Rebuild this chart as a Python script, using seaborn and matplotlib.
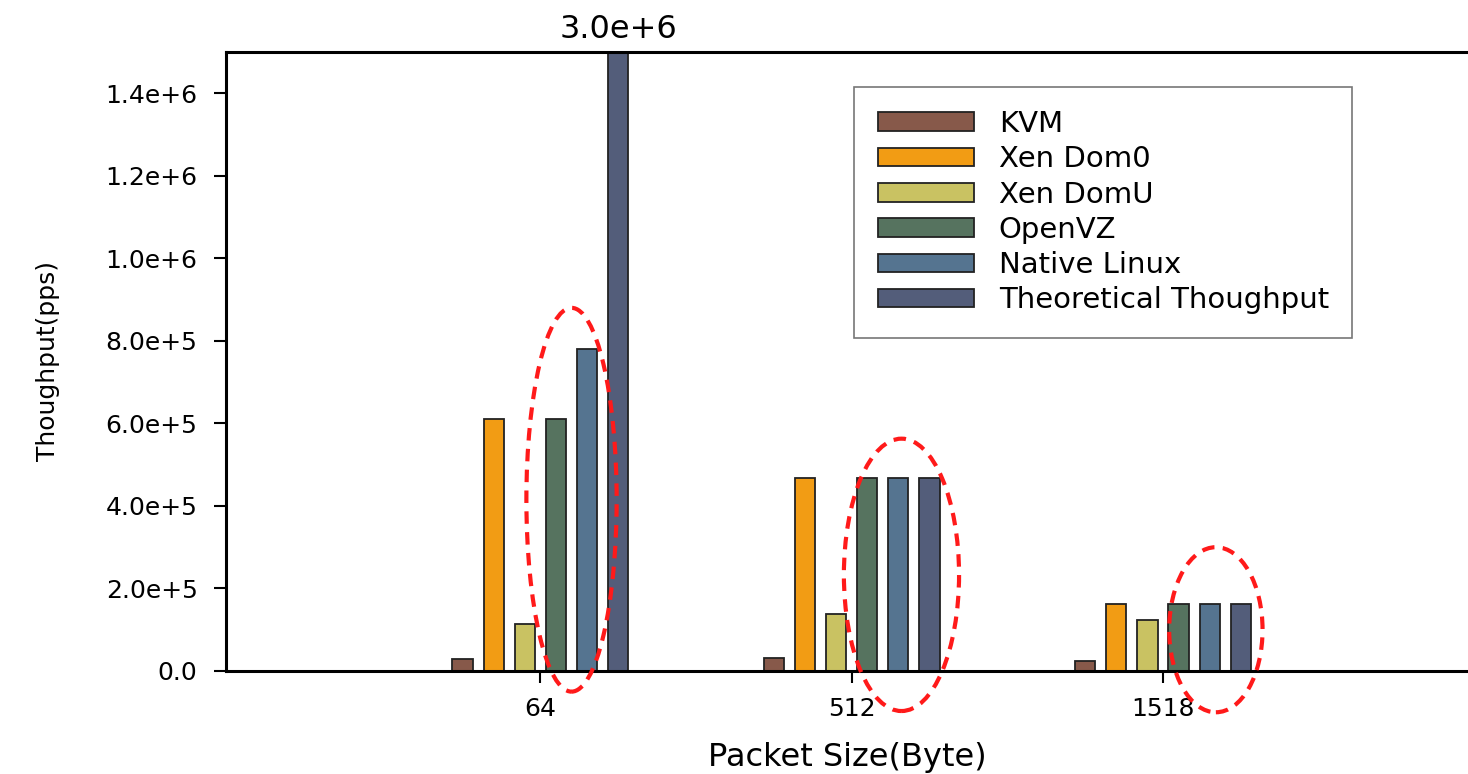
import pandas as pd
import matplotlib.pyplot as plt
import seaborn as sns
from matplotlib.patches import Ellipse
from matplotlib.ticker import FuncFormatter

packet_sizes = ['64', '512', '1518']
systems = ['KVM', 'Xen Dom0', 'Xen DomU', 'OpenVZ', 'Native Linux', 'Theoretical Thoughput']
kvm = [3.0e4, 3.2e4, 2.4e4]
xen_dom0 = [6.1e5, 4.68e5, 1.63e5]
xen_domu = [1.14e5, 1.38e5, 1.24e5]
openvz = [6.1e5, 4.68e5, 1.63e5]
native_linux = [7.8e5, 4.68e5, 1.63e5]
theoretical = [3.0e6, 4.68e5, 1.63e5]
colors = ['#87594a', '#f29c14', '#c9c262', '#56735f', '#557490', '#535d7a']

rows = []
for name, vals in zip(systems, [kvm, xen_dom0, xen_domu, openvz, native_linux, theoretical]):
    for size, v in zip(packet_sizes, vals):
        rows.append({'size': size, 'system': name, 'pps': v})
df = pd.DataFrame(rows)

sns.set_style('white')
plt.rcParams['font.family'] = ['DejaVu Sans']
plt.rcParams['text.color'] = 'black'
plt.rcParams['axes.labelcolor'] = 'black'

fig = plt.figure(figsize=(14.68, 7.74), dpi=100)
ax = fig.add_axes([226 / 1468, 1 - 671 / 774, 1 - 226 / 1468, (671 - 52) / 774])

sns.barplot(data=df, x='size', y='pps', hue='system', hue_order=systems,
            order=packet_sizes, palette=colors, width=0.6, gap=0.35,
            edgecolor='#222222', linewidth=1.3, saturation=1, ax=ax)

ax.set_ylim(0, 1.5e6)
ax.set_xlim(-1.01, 2.98)
ax.set_yticks([0, 2e5, 4e5, 6e5, 8e5, 1.0e6, 1.2e6, 1.4e6])


def sci(v, pos):
    if v == 0:
        return '0.0'
    m, e = f'{v:.1e}'.split('e')
    return f'{m}e{int(e):+d}'


ax.yaxis.set_major_formatter(FuncFormatter(sci))
ax.tick_params(axis='both', labelsize=18, length=8.5, width=1.5, colors='black',
               direction='out', left=True, bottom=True)
ax.tick_params(axis='y', pad=12)
ax.tick_params(axis='x', pad=10)
for side in ['left', 'bottom', 'top']:
    ax.spines[side].set_color('black')
    ax.spines[side].set_linewidth(2.2)
ax.spines['right'].set_visible(False)

ax.set_xlabel('Packet Size(Byte)', fontsize=23)
ax.set_ylabel('Thoughput(pps)', fontsize=18)
ax.xaxis.set_label_coords(0.5, -0.115)
ax.yaxis.set_label_coords(-0.134, 0.5)

# label for the clipped theoretical bar
ax.text(0.25, 1.534e6, sci(theoretical[0], None), ha='center', va='baseline',
        fontsize=23, clip_on=False)

# red dashed highlight ellipses
for cx, cy, w, h in [(0.1, 4.15e5, 0.29, 9.3e5), (1.16, 2.33e5, 0.37, 6.6e5), (2.17, 1.0e5, 0.30, 4.0e5)]:
    ax.add_patch(Ellipse((cx, cy), w, h, fill=False, edgecolor='#ff1a1a', linewidth=3,
                         linestyle=(0, (3, 2)), clip_on=False, zorder=5))

leg = ax.legend(loc='upper left', bbox_to_anchor=(0.506, 0.944), borderaxespad=0,
                fontsize=21, handlelength=3.3, handleheight=0.6, handletextpad=0.85,
                labelspacing=0.25, borderpad=0.8, frameon=True, fancybox=False)
leg.get_frame().set_edgecolor('#555555')
leg.get_frame().set_linewidth(1.2)

plt.savefig('out.png', dpi=100)
